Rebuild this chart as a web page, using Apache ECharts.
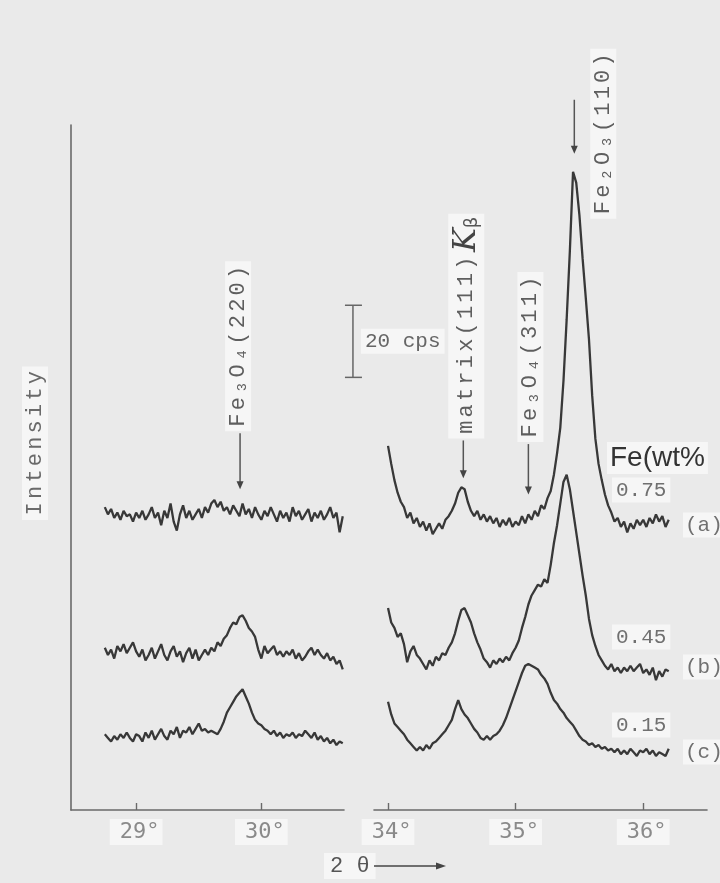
<!DOCTYPE html>
<html><head><meta charset="utf-8">
<script src="https://cdn.jsdelivr.net/npm/echarts@6/dist/echarts.min.js"></script>
<style>html,body{margin:0;padding:0;background:#eaeaea;}#c{width:720px;height:883px;}</style>
</head><body><div id="c"></div>
<script>
// ---- data (2θ in degrees, intensity in cps) ----
const xLeft = [28.750,28.775,28.800,28.825,28.850,28.875,28.900,28.925,28.950,28.975,29.000,29.025,29.050,29.075,29.100,29.125,29.150,29.175,29.200,29.225,29.250,29.275,29.300,29.325,29.350,29.375,29.400,29.425,29.450,29.475,29.500,29.525,29.550,29.575,29.600,29.625,29.650,29.675,29.700,29.725,29.750,29.775,29.800,29.825,29.850,29.875,29.900,29.925,29.950,29.975,30.000,30.025,30.050,30.075,30.100,30.125,30.150,30.175,30.200,30.225,30.250,30.275,30.300,30.325,30.350,30.375,30.400,30.425,30.450,30.475,30.500,30.525,30.550,30.575,30.600,30.625,30.650];
const xRight = [34.000,34.025,34.050,34.075,34.100,34.125,34.150,34.175,34.200,34.225,34.250,34.275,34.300,34.325,34.350,34.375,34.400,34.425,34.450,34.475,34.500,34.525,34.550,34.575,34.600,34.625,34.650,34.675,34.700,34.725,34.750,34.775,34.800,34.825,34.850,34.875,34.900,34.925,34.950,34.975,35.000,35.025,35.050,35.075,35.100,35.125,35.150,35.175,35.200,35.225,35.250,35.275,35.300,35.325,35.350,35.375,35.400,35.425,35.450,35.475,35.500,35.525,35.550,35.575,35.600,35.625,35.650,35.675,35.700,35.725,35.750,35.775,35.800,35.825,35.850,35.875,35.900,35.925,35.950,35.975,36.000,36.025,36.050,36.075,36.100,36.125,36.150,36.175,36.200];

const aLeft = [84,82,83.5,81,82.5,80.5,83,81.5,82,80,
  82.5,81,83,80.5,82,84,81,82.5,79,83,
  81,85,80,77.5,82,84.5,81,83,80.5,82,
  83.5,81,84,82.5,85,86,84,85.5,83,84,
  82,84.5,83,81.5,85,82,83.5,81,84,82,
  80.5,83,81.5,84,82,80,83,81,82.5,80,
  84,81.5,83,80.5,82,83.5,80,82.5,81,83,
  80.5,82,84,81,82.5,77,81.5];
const bLeft = [45,43,44.5,42,45.5,44,46,43.5,45,46.5,
  44,42.5,44.5,41.5,43,45,42,44,46,43,
  41.5,44,45.5,42.5,44,41,43.5,45,42,44.5,
  41.5,43,44.5,43,45,44,46.5,45.5,47.5,48.5,
  50.5,52,51.5,53.5,54,52.5,50.5,49.5,48,44.5,
  42,45.5,43.5,44.5,45.5,43,44,42.5,44,43,
  44.5,42,43.5,41.5,42.5,44,45,43,44.5,43,
  42,43.5,41.5,42.5,40.5,41.5,39];
const cLeft = [21,20,19,20.5,19.5,21,20,21.5,20,19,
  21,20.5,19,21.5,20,22,19.5,21,22.5,20.5,
  19.5,22,21,23,20,22,21.5,23,21,22.5,
  24,22,22.5,21.5,22,21.5,21,22.5,24.5,27,
  28.5,30,31.5,32.5,33.5,31.5,29.5,27,25,24,
  23.5,22.5,22,21,22,20.5,21.5,20,21,20.5,
  21.5,20,21,20.5,22,21,20,21.5,19.5,20.5,
  19,20,18.5,19.5,18,19,18.5];

const aRight = [101,96,91.5,88,85.5,84,81,82.5,79.5,81,
  78.5,80,77.5,79.5,76.5,78,79.5,78,80.5,81.5,
  83,85,88,89.5,89,85.5,83,81.5,83,80.5,
  82,80,81.5,79.5,81,78.5,80.5,79,81,78.5,
  80,79,81.5,79.5,82,80.5,83,81.5,84.5,83.5,
  86.5,88.5,93,99,106,119,136,155,177,174,
  165,153,142,130.5,115,103,96,91.5,87.5,84.5,
  82.5,80,81,78.5,80,77,79.5,78,80.5,79,
  80.5,78.5,81,79.5,82,80,81.5,78.5,80.5];
const bRight = [56,52,50.5,48,49,46,41,44,45.5,43,
  42,40.5,39,41.5,40,42.5,41.5,43.5,43,45,
  46.5,49,52.5,55.5,56,54,52,49,46.5,44.5,
  42,41,39.5,41.5,40.5,42,41,42.5,41.5,43.5,
  45,47,50.5,53.5,57,59.5,61,62.5,62,64,
  63,68,74,79,85,91,93,89,83,77,
  71,65,59.5,53,48.5,45.5,43,41.5,40,39,
  40.5,38.5,39.5,38,39.5,38.5,40,38.5,39.5,40.5,
  38,39,37.5,39.5,36,38.5,37,39,38.5];
const cRight = [30,26.5,24,23,22,21,19.5,18.5,17.5,16.5,
  17.5,16.5,18,17,18.5,19,20,21,22,23.5,
  25,28,30.5,28,26.5,25.5,24,22.5,21.5,20,
  19.5,20.5,19.5,20.5,21,22,23.5,25.5,28,30.5,
  33,35.5,38,40,40.5,40,39.5,39,37.5,36.5,
  35,32.5,30.5,29.5,28,27,25.5,24.5,23.5,22,
  20.5,19.5,19,18,18.5,17.5,18,17,17.5,16.5,
  17,16,17,15.5,16.5,15.5,17,16,15,16.5,
  16,17,15.5,16.5,15,16,15.5,15,17];

const leftTicks = [29, 30];
const rightTicks = [34, 35, 36];
const sampleTags = ['(a)', '(b)', '(c)'];
const feContents = ['0.75', '0.45', '0.15'];
const peakNames = ['Fe₃O₄(220)', 'matrix(111)', 'Fe₃O₄(311)', 'Fe₂O₃(110)'];
const peakDegs = [29.83, 34.59, 35.10, 35.46];
const scaleBarCps = 20;

// ---- chart ----
const MONO = '"Liberation Mono","DejaVu Sans Mono",monospace';
const INK = '#383838';
const TXT = '#5e5e5e';
const BOX = '#f6f6f6';
const chart = echarts.init(document.getElementById('c'), null, {renderer: 'canvas'});

function pairs(xs, ys) { return xs.map((x, i) => [x, ys[i]]); }
function xAx(idx, min, max, ticks) {
  return {
    type: 'value', gridIndex: idx, min: min, max: max,
    axisLine: {show: true, onZero: false, lineStyle: {color: '#6a6a6a', width: 1.6}},
    axisTick: {show: true, inside: true, length: 7, customValues: ticks, lineStyle: {color: '#6a6a6a', width: 1.4}},
    axisLabel: {show: true, customValues: ticks, formatter: v => v + '°', margin: 9,
      fontFamily: '"DejaVu Sans Mono",monospace', fontSize: 22, color: '#8a8a8a',
      backgroundColor: BOX, padding: [2, 3, 2, 10]},
    splitLine: {show: false}
  };
}
function yAx(idx, showLine) {
  return {
    type: 'value', gridIndex: idx, min: 0, max: 190,
    axisLine: {show: showLine, onZero: false, lineStyle: {color: '#6a6a6a', width: 1.6}},
    axisTick: {show: false}, axisLabel: {show: false}, splitLine: {show: false}
  };
}
function trace(idx, xs, ys) {
  return {type: 'line', xAxisIndex: idx, yAxisIndex: idx, data: pairs(xs, ys),
    showSymbol: false, symbol: 'none', silent: true,
    lineStyle: {color: INK, width: 2.3}, z: 5};
}

chart.setOption({
  animation: false,
  backgroundColor: '#eaeaea',
  grid: [
    {left: 71, top: 125, width: 273, height: 685},
    {left: 374, top: 125, width: 333, height: 685}
  ],
  xAxis: [xAx(0, 28.48, 30.66, leftTicks), xAx(1, 33.89, 36.5, rightTicks)],
  yAxis: [yAx(0, true), yAx(1, false)],
  series: [
    trace(0, xLeft, aLeft), trace(0, xLeft, bLeft), trace(0, xLeft, cLeft),
    trace(1, xRight, aRight), trace(1, xRight, bRight), trace(1, xRight, cRight)
  ]
});

function px(seg, deg, cps) { return chart.convertToPixel({xAxisIndex: seg, yAxisIndex: seg}, [deg, cps]); }
const g = [];
function arrow(x, y1, y2) {
  g.push({type: 'line', shape: {x1: x, y1: y1, x2: x, y2: y2 - 6}, style: {stroke: '#555', lineWidth: 1.5}, z: 20});
  g.push({type: 'polygon', shape: {points: [[x - 3.5, y2 - 8], [x + 3.5, y2 - 8], [x, y2]]}, style: {fill: '#444'}, z: 20});
}
// letter-spaced typewriter text (rich tokens, one per character)
function spaced(text, key) {
  return Array.from(text).map(ch => '{' + key + '|' + ch + '}').join('');
}
const charStyle = {font: '22px ' + MONO, fill: TXT, padding: [0, 1.6, 0, 1.6]};
function vtext(x, y, richText, extraRich, fill) {
  const rich = Object.assign({c: Object.assign({}, charStyle, fill ? {fill: fill} : {})}, extraRich || {});
  g.push({type: 'text', x: x, y: y, rotation: Math.PI / 2, z: 15,
    style: {text: richText, align: 'left', verticalAlign: 'middle',
      backgroundColor: BOX, padding: [2, 3], rich: rich}});
}
function htext(x, y, text, opts) {
  g.push({type: 'text', x: x, y: y, z: 15,
    style: Object.assign({text: text, font: '21px ' + MONO, fill: '#707070', align: 'left', verticalAlign: 'middle',
      backgroundColor: BOX, padding: [2, 4]}, opts || {})});
}

// peak annotations
const segOf = [0, 1, 1, 1];
const tipCps = [89, 92, 87.5, 182];
const topCps = [104.5, 102.5, 101.5, 197];
peakDegs.forEach((d, i) => {
  const t = px(segOf[i], d, tipCps[i]);
  const b = px(segOf[i], d, topCps[i]);
  arrow(t[0], b[1], t[1]);
});
{
  const p0 = px(0, peakDegs[0], topCps[0]);
  vtext(p0[0] - 2, p0[1] - 2, spaced(peakNames[0], 'c'));
  const p1 = px(1, peakDegs[1], topCps[1]);
  vtext(p1[0] + 3, p1[1] - 2, spaced(peakNames[1], 'c') + '{k|K}{s|β}', {
    k: {font: 'italic 32px "DejaVu Serif",serif', fill: '#444', padding: [0, 0, 0, 3]},
    s: {font: '18px "DejaVu Sans",sans-serif', fill: '#555', padding: [12, 0, 0, 0]}});
  const p2 = px(1, peakDegs[2], topCps[2]);
  vtext(p2[0] + 2, p2[1] - 2, spaced(peakNames[2], 'c'));
  const p3 = px(1, peakDegs[3], 164);
  vtext(p3[0] + 29, p3[1], spaced(peakNames[3], 'c'));
}

// scale bar (20 cps)
{
  const s0 = px(1, 33.725, 120), s1 = px(1, 33.725, 120 + scaleBarCps);
  g.push({type: 'line', shape: {x1: s0[0], y1: s0[1], x2: s1[0], y2: s1[1]}, style: {stroke: '#666', lineWidth: 1.5}, z: 20});
  g.push({type: 'line', shape: {x1: s0[0] - 8, y1: s0[1], x2: s0[0] + 9, y2: s0[1]}, style: {stroke: '#666', lineWidth: 1.5}, z: 20});
  g.push({type: 'line', shape: {x1: s1[0] - 8, y1: s1[1], x2: s1[0] + 9, y2: s1[1]}, style: {stroke: '#666', lineWidth: 1.5}, z: 20});
  htext(s0[0] + 8, (s0[1] + s1[1]) / 2, scaleBarCps + ' cps', {fill: '#666'});
}

// composition labels
htext(607, 458, 'Fe(wt%', {font: '28px "Liberation Sans","DejaVu Sans",sans-serif', fill: '#333', padding: [2, 3]});
const feY = [490, 637, 725];
const tagY = [525, 667, 752];
feContents.forEach((t, i) => htext(612, feY[i], t));
sampleTags.forEach((t, i) => htext(683, tagY[i], t, {padding: [2, 2]}));

// axis titles
vtext(35, 520, spaced('Intensity', 'c'), null, '#6a6a6a');
htext(324, 866, '2 θ', {fill: '#555', font: '22px ' + MONO, padding: [2, 6]});
g.push({type: 'line', shape: {x1: 374, y1: 866, x2: 440, y2: 866}, style: {stroke: '#444', lineWidth: 1.5}, z: 20});
g.push({type: 'polygon', shape: {points: [[436, 862.5], [436, 869.5], [446, 866]]}, style: {fill: '#444'}, z: 20});

chart.setOption({graphic: g});
</script></body></html>
